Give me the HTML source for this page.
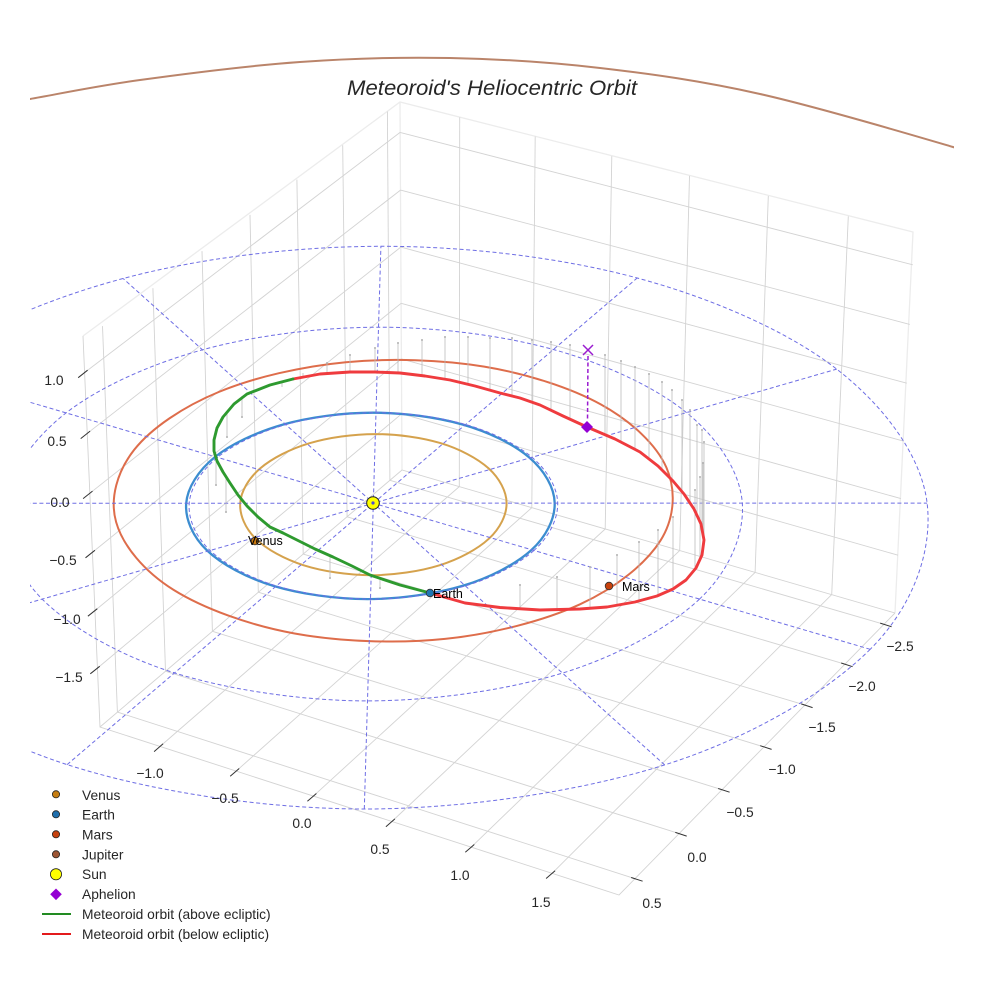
<!DOCTYPE html>
<html>
<head>
<meta charset="utf-8">
<style>
html,body{margin:0;padding:0;background:#fff;}
svg{display:block;}
text{font-family:"Liberation Sans",Arial,sans-serif;}
</style>
</head>
<body>
<svg width="984" height="984" viewBox="0 0 984 984" xmlns="http://www.w3.org/2000/svg">
<defs>
<clipPath id="clip"><rect x="30" y="0" width="924" height="984"/></clipPath>
</defs>
<rect x="0" y="0" width="984" height="984" fill="#ffffff"/>

<g fill="none" stroke="#ececec" stroke-width="1.3">
<polyline points="83,336 400,102 913,232 895,613"/>
<line x1="400" y1="102" x2="402" y2="470"/>
</g>

<g stroke="#d3d3d3" stroke-width="0.9" fill="none">
<line x1="117.4" y1="712.1" x2="102.5" y2="326.1"/>
<line x1="165.5" y1="671.2" x2="152.9" y2="288.2"/>
<line x1="212.4" y1="631.3" x2="202.0" y2="251.1"/>
<line x1="258.3" y1="592.2" x2="250.0" y2="214.9"/>
<line x1="303.2" y1="554.1" x2="296.9" y2="179.6"/>
<line x1="347.1" y1="516.8" x2="342.7" y2="145.2"/>
<line x1="389.9" y1="480.3" x2="387.4" y2="111.5"/>
<line x1="400.1" y1="132.4" x2="85.5" y2="371.9"/>
<line x1="400.5" y1="190.1" x2="88.0" y2="432.8"/>
<line x1="400.8" y1="247.1" x2="90.4" y2="492.8"/>
<line x1="401.1" y1="303.3" x2="92.8" y2="552.0"/>
<line x1="401.4" y1="358.9" x2="95.2" y2="610.4"/>
<line x1="401.7" y1="413.8" x2="97.6" y2="668.0"/>
<line x1="459.3" y1="486.6" x2="459.7" y2="117.2"/>
<line x1="531.8" y1="507.7" x2="535.2" y2="136.5"/>
<line x1="605.2" y1="529.0" x2="611.8" y2="156.1"/>
<line x1="679.7" y1="550.6" x2="689.5" y2="175.9"/>
<line x1="755.1" y1="572.4" x2="768.3" y2="196.0"/>
<line x1="831.7" y1="594.6" x2="848.3" y2="216.4"/>
<line x1="400.1" y1="132.4" x2="912.8" y2="264.8"/>
<line x1="400.5" y1="190.1" x2="909.8" y2="324.4"/>
<line x1="400.8" y1="247.1" x2="906.8" y2="383.2"/>
<line x1="401.1" y1="303.3" x2="903.8" y2="441.2"/>
<line x1="401.4" y1="358.9" x2="900.9" y2="498.6"/>
<line x1="401.7" y1="413.8" x2="898.0" y2="555.2"/>
<line x1="459.3" y1="486.6" x2="160.1" y2="746.4"/>
<line x1="531.8" y1="507.7" x2="236.2" y2="771.1"/>
<line x1="605.2" y1="529.0" x2="313.4" y2="796.1"/>
<line x1="679.7" y1="550.6" x2="391.9" y2="821.5"/>
<line x1="755.1" y1="572.4" x2="471.3" y2="847.1"/>
<line x1="831.7" y1="594.6" x2="552.1" y2="873.3"/>
<line x1="117.4" y1="712.1" x2="635.0" y2="878.7"/>
<line x1="165.5" y1="671.2" x2="679.1" y2="833.6"/>
<line x1="212.4" y1="631.3" x2="722.0" y2="789.7"/>
<line x1="258.3" y1="592.2" x2="764.0" y2="746.9"/>
<line x1="303.2" y1="554.1" x2="805.0" y2="705.1"/>
<line x1="347.1" y1="516.8" x2="845.0" y2="664.2"/>
<line x1="389.9" y1="480.3" x2="884.0" y2="624.3"/>
<polyline points="83,336 100,727 619,895 895,613"/>
<polyline points="100,727 402,470 895,613"/>
</g>

<g clip-path="url(#clip)">
<path fill="none" stroke="#ba846a" stroke-width="2" d="M20,101 L30,99 C60,93.7 95,86.2 140,80 C185,73.8 248.3,65.7 300,62 C351.7,58.3 400,57 450,58 C500,59 548.3,62 600,68 C651.7,74 701.2,80.8 760,94 C818.8,107.2 909.7,134.3 953,147 L970,153"/>

<g transform="translate(-1.5,0)">
<path fill="none" stroke="#de6d4b" stroke-width="2" d="M175.1,589.9 C145.4,571.3 124.2,545.4 117.6,522 C111,498.7 118.6,471.5 135.7,449.8 C152.8,428.1 184.9,406.6 220.2,392 C255.5,377.4 303.1,366.4 347.3,362.2 C391.6,358 443.2,359.6 485.7,366.6 C528.2,373.7 572.1,387.7 602.5,404.5 C632.9,421.3 658,444.8 667.9,467.5 C677.8,490.2 676.3,517.9 661.9,540.7 C647.5,563.5 617.4,587.9 581.5,604.3 C545.6,620.7 494.1,634 446.5,638.9 C398.9,643.8 341.3,641.7 296.1,633.5 C250.9,625.3 204.9,608.5 175.1,589.9 Z"/>
<path fill="none" stroke="#d5a24d" stroke-width="2" d="M490.4,538.7 C479.2,549.1 460.5,559.2 440.9,565.3 C421.3,571.4 395.4,575.2 372.8,575.2 C350.2,575.2 324.5,571.4 305.2,565.3 C286,559.2 267.9,549.2 257.3,538.8 C246.7,528.5 241,514.9 241.7,503.2 C242.4,491.5 250.1,478.4 261.7,468.4 C273.3,458.4 291.9,448.9 311.1,443.2 C330.3,437.5 354.9,434.1 376.7,434.1 C398.5,434.1 423,437.4 441.9,443.1 C460.8,448.8 479,458.3 490,468.3 C501,478.3 508,491.4 508.1,503.1 C508.2,514.8 501.6,528.3 490.4,538.7 Z"/>
<path transform="translate(-3,0)" fill="none" stroke="#3c8dd0" stroke-width="2.3" d="M535.4,550.5 C520,564.3 494.1,577.8 466.9,585.9 C439.7,594 403.5,599.1 372,599.1 C340.5,599.1 304.6,594 277.9,585.9 C251.2,577.8 226.1,564.3 211.6,550.5 C197.1,536.7 189.5,518.8 190.7,503.3 C191.9,487.8 202.9,470.5 219,457.4 C235.1,444.3 260.9,432.1 287.3,424.6 C313.7,417.2 347.6,412.7 377.5,412.7 C407.5,412.7 441,417.1 467,424.5 C493,431.9 518.1,444.2 533.5,457.3 C548.9,470.4 558.9,487.7 559.2,503.2 C559.5,518.7 550.8,536.7 535.4,550.5 Z"/>

<g fill="none" stroke="#6e6ee4" stroke-width="1" stroke-dasharray="4,2.6">
<path d="M535.4,550.5 C520,564.3 494.1,577.8 466.9,585.9 C439.7,594 403.5,599.1 372,599.1 C340.5,599.1 304.6,594 277.9,585.9 C251.2,577.8 226.1,564.3 211.6,550.5 C197.1,536.7 189.5,518.8 190.7,503.3 C191.9,487.8 202.9,470.5 219,457.4 C235.1,444.3 260.9,432.1 287.3,424.6 C313.7,417.2 347.6,412.7 377.5,412.7 C407.5,412.7 441,417.1 467,424.5 C493,431.9 518.1,444.2 533.5,457.3 C548.9,470.4 558.9,487.7 559.2,503.2 C559.5,518.7 550.8,536.7 535.4,550.5 Z"/>
<path d="M701,599.1 C671,627.4 619.2,656.1 563.9,673.1 C508.6,690.1 433.7,700.9 369,700.9 C304.4,700.9 230.2,689.9 176,672.9 C121.8,655.9 71.9,627.4 43.7,599.1 C15.5,570.8 2.8,534.3 6.8,503.3 C10.8,472.3 34.7,438.5 67.6,412.9 C100.5,387.3 151.9,364.1 204,349.8 C256.1,335.5 321.5,327.3 380,327.2 C438.5,327.2 503.6,335.3 554.9,349.5 C606.2,363.7 656.5,387 688,412.6 C719.5,438.2 741.6,472 743.8,503.1 C746,534.2 731,570.8 701,599.1 Z"/>
<path d="M871.7,649.3 C828,692.9 750.5,738.3 666.2,764.9 C581.9,791.5 465.4,809 365.8,809 C266.2,809 151.1,791.3 68.6,764.6 C-13.9,738 -88.1,692.7 -129,649.1 C-169.9,605.6 -185.2,549.9 -176.9,503.3 C-168.6,456.7 -129.6,407.2 -79.3,369.7 C-29.1,332.2 47.7,299.1 124.6,278.5 C201.6,257.9 296.7,246.4 382.4,246.3 C468.1,246.2 562.7,257.5 638.7,278 C714.7,298.5 789.9,331.6 838.2,369.1 C886.5,406.6 923,456.4 928.6,503.1 C934.2,549.8 915.4,605.7 871.7,649.3 Z"/>
<line x1="871.7" y1="649.3" x2="-79.3" y2="369.7"/>
<line x1="666.2" y1="764.9" x2="124.6" y2="278.5"/>
<line x1="365.8" y1="809.0" x2="382.4" y2="246.3"/>
<line x1="68.6" y1="764.6" x2="638.7" y2="278.0"/>
<line x1="-129.0" y1="649.1" x2="838.2" y2="369.1"/>
<line x1="-176.9" y1="503.3" x2="928.6" y2="503.1"/>
</g>
</g>

<g stroke="#bcbcbc" stroke-width="0.8">
<line x1="303" y1="377" x2="303" y2="373"/>
<line x1="327" y1="373" x2="327" y2="363"/>
<line x1="350" y1="372" x2="350" y2="355"/>
<line x1="375" y1="372" x2="375" y2="348"/>
<line x1="398" y1="373" x2="398" y2="343"/>
<line x1="422" y1="375" x2="422" y2="340"/>
<line x1="445" y1="379" x2="445" y2="337"/>
<line x1="468" y1="384" x2="468" y2="337"/>
<line x1="490" y1="390" x2="490" y2="338"/>
<line x1="512" y1="396" x2="512" y2="338"/>
<line x1="532" y1="402" x2="532" y2="340"/>
<line x1="551" y1="410" x2="551" y2="342"/>
<line x1="570" y1="418" x2="570" y2="345"/>
<line x1="605" y1="434" x2="605" y2="355"/>
<line x1="621" y1="442" x2="621" y2="361"/>
<line x1="635" y1="449" x2="635" y2="367"/>
<line x1="649" y1="459" x2="649" y2="374"/>
<line x1="662" y1="470" x2="662" y2="382"/>
<line x1="672" y1="480" x2="672" y2="390"/>
<line x1="682" y1="492" x2="682" y2="400"/>
<line x1="690" y1="502" x2="690" y2="410"/>
<line x1="697" y1="514" x2="697" y2="425"/>
<line x1="702" y1="527" x2="702" y2="430"/>
<line x1="704" y1="545" x2="704" y2="442"/>
<line x1="703" y1="552" x2="703" y2="463"/>
<line x1="700" y1="562" x2="700" y2="477"/>
<line x1="695" y1="571" x2="695" y2="490"/>
<line x1="673" y1="589" x2="673" y2="517"/>
<line x1="658" y1="596" x2="658" y2="530"/>
<line x1="639" y1="601" x2="639" y2="542"/>
<line x1="617" y1="606" x2="617" y2="555"/>
<line x1="590" y1="608" x2="590" y2="567"/>
<line x1="557" y1="610" x2="557" y2="577"/>
<line x1="520" y1="609" x2="520" y2="585"/>
<line x1="282" y1="383" x2="282" y2="387"/>
<line x1="242" y1="396" x2="242" y2="417"/>
<line x1="227" y1="412" x2="227" y2="437"/>
<line x1="216" y1="454" x2="216" y2="485"/>
<line x1="226" y1="477" x2="226" y2="512"/>
<line x1="330" y1="556" x2="330" y2="578"/>
<line x1="380" y1="578" x2="380" y2="588"/>
</g>
<g fill="#b0b0b0">
<circle cx="327" cy="363" r="1"/><circle cx="350" cy="355" r="1"/><circle cx="375" cy="348" r="1"/><circle cx="398" cy="343" r="1"/><circle cx="422" cy="340" r="1"/><circle cx="445" cy="337" r="1"/><circle cx="468" cy="337" r="1"/><circle cx="490" cy="338" r="1"/><circle cx="512" cy="338" r="1"/><circle cx="532" cy="340" r="1"/><circle cx="551" cy="342" r="1"/><circle cx="570" cy="345" r="1"/><circle cx="605" cy="355" r="1"/><circle cx="621" cy="361" r="1"/><circle cx="635" cy="367" r="1"/><circle cx="649" cy="374" r="1"/><circle cx="662" cy="382" r="1"/><circle cx="672" cy="390" r="1"/><circle cx="682" cy="400" r="1"/><circle cx="690" cy="410" r="1"/><circle cx="697" cy="425" r="1"/><circle cx="702" cy="430" r="1"/><circle cx="704" cy="442" r="1"/><circle cx="703" cy="463" r="1"/><circle cx="700" cy="477" r="1"/><circle cx="695" cy="490" r="1"/><circle cx="673" cy="517" r="1"/><circle cx="658" cy="530" r="1"/><circle cx="639" cy="542" r="1"/><circle cx="617" cy="555" r="1"/><circle cx="590" cy="567" r="1"/><circle cx="557" cy="577" r="1"/><circle cx="520" cy="585" r="1"/><circle cx="242" cy="417" r="1"/><circle cx="227" cy="437" r="1"/><circle cx="216" cy="485" r="1"/><circle cx="226" cy="512" r="1"/><circle cx="330" cy="578" r="1"/><circle cx="380" cy="588" r="1"/>
</g>

<polyline fill="none" stroke="#ef3b3e" stroke-width="2.9" stroke-linejoin="round" stroke-linecap="round" points="430,593 465,603 500,607.5 540,610 580,609 607,607 635,602 657,596 673,589 686,580 696,568 702,555 704,540 701,524 694,509 684,494 673,481 658,466 640,452 615,439 587,427 563,416 540,405 520,398 500,393 475,386 450,380 425,376 400,373 375,372 350,372 320,374 293,379"/>
<polyline fill="none" stroke="#2e9a2f" stroke-width="2.9" stroke-linejoin="round" stroke-linecap="round" points="293,379 270,385 247,394 234,404 223,417 217,428 214,440 214,451 217,461 223,472 230,483 238,495 247,506 258,517 270,527 283,533 297,540 315,549 333,557 352,566 370,575 400,585 430,593"/>

<line x1="588" y1="356" x2="587.5" y2="421" stroke="#9a1bd0" stroke-width="1.5" stroke-dasharray="4,2.5"/>
<g stroke="#9a1bd0" stroke-width="1.5">
<line x1="583" y1="345" x2="593" y2="355"/>
<line x1="593" y1="345" x2="583" y2="355"/>
</g>
<polygon points="587,421 593,427 587,433 581,427" fill="#9400d3"/>

<circle cx="373" cy="503" r="6.3" fill="#ffff00" stroke="#222" stroke-width="1"/>
<circle cx="373" cy="503" r="1.6" fill="#4b4bd8"/>
<circle cx="255" cy="541" r="3.8" fill="#c8780e" stroke="#333" stroke-width="0.8"/>
<circle cx="430" cy="593" r="3.8" fill="#1f77b4" stroke="#333" stroke-width="0.8"/>
<circle cx="609" cy="586" r="3.8" fill="#c8420c" stroke="#333" stroke-width="0.8"/>
</g>

<g font-size="12.5" fill="#000">
<text x="248" y="545">Venus</text>
<text x="433" y="598">Earth</text>
<text x="622" y="591">Mars</text>
</g>

<g stroke="#333" stroke-width="1">
<line x1="163.1" y1="743.8" x2="154.1" y2="751.6"/>
<line x1="239.2" y1="768.5" x2="230.2" y2="776.3"/>
<line x1="316.4" y1="793.5" x2="307.4" y2="801.3"/>
<line x1="394.9" y1="818.9" x2="385.9" y2="826.7"/>
<line x1="474.3" y1="844.5" x2="465.3" y2="852.3"/>
<line x1="555.1" y1="870.7" x2="546.1" y2="878.5"/>
<line x1="631.2" y1="877.5" x2="642.6" y2="881.2"/>
<line x1="675.3" y1="832.4" x2="686.7" y2="836.1"/>
<line x1="718.2" y1="788.5" x2="729.6" y2="792.2"/>
<line x1="760.2" y1="745.7" x2="771.6" y2="749.4"/>
<line x1="801.2" y1="703.9" x2="812.6" y2="707.6"/>
<line x1="841.2" y1="663.0" x2="852.6" y2="666.7"/>
<line x1="880.2" y1="623.1" x2="891.6" y2="626.8"/>
<line x1="87.6" y1="370.2" x2="78.2" y2="377.7"/>
<line x1="90.1" y1="431.1" x2="80.7" y2="438.6"/>
<line x1="92.5" y1="491.1" x2="83.1" y2="498.6"/>
<line x1="94.9" y1="550.3" x2="85.5" y2="557.8"/>
<line x1="97.3" y1="608.7" x2="87.9" y2="616.2"/>
<line x1="99.7" y1="666.3" x2="90.3" y2="673.8"/>
</g>

<g font-size="13.8" fill="#262626" text-anchor="middle">
<text x="150" y="778">−1.0</text>
<text x="225" y="803">−0.5</text>
<text x="302" y="828">0.0</text>
<text x="380" y="854">0.5</text>
<text x="460" y="880">1.0</text>
<text x="541" y="907">1.5</text>
<text x="652" y="908">0.5</text>
<text x="697" y="862">0.0</text>
<text x="740" y="817">−0.5</text>
<text x="782" y="774">−1.0</text>
<text x="822" y="732">−1.5</text>
<text x="862" y="691">−2.0</text>
<text x="900" y="651">−2.5</text>
<text x="54" y="385">1.0</text>
<text x="57" y="446">0.5</text>
<text x="60" y="507">0.0</text>
<text x="63" y="565">−0.5</text>
<text x="67" y="624">−1.0</text>
<text x="69" y="682">−1.5</text>
</g>

<text x="492" y="95" font-size="21" font-style="italic" fill="#262626" text-anchor="middle" textLength="290" lengthAdjust="spacingAndGlyphs">Meteoroid's Heliocentric Orbit</text>

<g stroke="#222" stroke-width="0.8">
<circle cx="56" cy="794.3" r="3.6" fill="#c57d12"/>
<circle cx="56" cy="814.3" r="3.6" fill="#1f6fad"/>
<circle cx="56" cy="834.3" r="3.6" fill="#c5420f"/>
<circle cx="56" cy="854.3" r="3.6" fill="#9c5533"/>
<circle cx="56" cy="874.3" r="5.6" fill="#ffff00"/>
</g>
<polygon points="56,888.5 61.8,894.3 56,900.1 50.2,894.3" fill="#9400d3"/>
<line x1="42" y1="914" x2="71" y2="914" stroke="#228b22" stroke-width="2"/>
<line x1="42" y1="934" x2="71" y2="934" stroke="#e31a1c" stroke-width="2"/>
<g font-size="13.8" fill="#262626">
<text x="82" y="799.8">Venus</text>
<text x="82" y="819.7">Earth</text>
<text x="82" y="839.5">Mars</text>
<text x="82" y="859.4">Jupiter</text>
<text x="82" y="879.2">Sun</text>
<text x="82" y="899.1">Aphelion</text>
<text x="82" y="918.9">Meteoroid orbit (above ecliptic)</text>
<text x="82" y="938.8">Meteoroid orbit (below ecliptic)</text>
</g>
</svg>
</body>
</html>
